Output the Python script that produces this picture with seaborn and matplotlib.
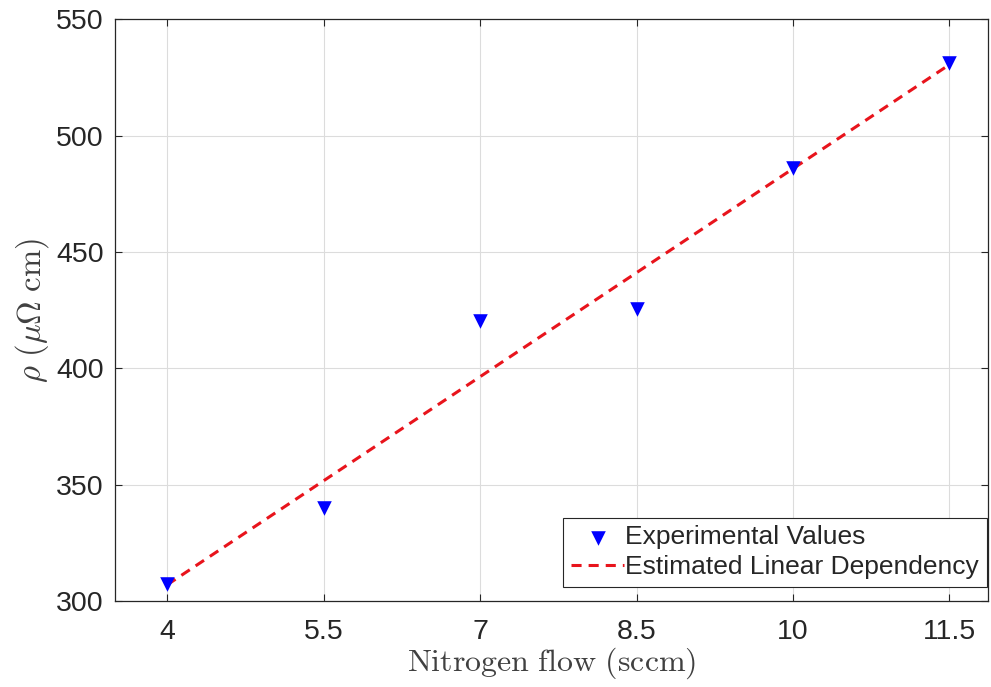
import matplotlib
matplotlib.use("Agg")
import matplotlib.pyplot as plt
import seaborn as sns
import pandas as pd

# Data
nitrogen_flow = [4, 5.5, 7, 8.5, 10, 11.5]
resistivity = [307.5, 340, 420.5, 425.5, 486, 531]
fit_x = [4, 11.5]
fit_y = [307, 530.5]
x_ticks = [4, 5.5, 7, 8.5, 10, 11.5]
x_tick_labels = ["4", "5.5", "7", "8.5", "10", "11.5"]
y_ticks = [300, 350, 400, 450, 500, 550]

sns.set_theme(style="whitegrid")
plt.rcParams['font.family'] = ['Liberation Sans', 'DejaVu Sans']
plt.rcParams['mathtext.fontset'] = 'cm'

df = pd.DataFrame({"x": nitrogen_flow, "y": resistivity})
fit = pd.DataFrame({"x": fit_x, "y": fit_y})

fig = plt.figure(figsize=(9.91, 6.87), dpi=100)
ax = fig.add_axes([0.116, 0.125, 0.881, 0.847])

sns.scatterplot(data=df, x="x", y="y", ax=ax, marker="v", s=110, color="#0000ff",
                edgecolor="#0000ff", linewidth=0, label="Experimental Values", zorder=3)
sns.lineplot(data=fit, x="x", y="y", ax=ax, color="#e8141c", linewidth=2.2,
             label="Estimated Linear Dependency", zorder=2)
ax.lines[-1].set_dashes([3.3, 2.3])

ax.set_xlim(3.5, 11.87)
ax.set_ylim(300, 550)
ax.set_xticks(x_ticks)
ax.set_xticklabels(x_tick_labels)
ax.set_yticks(y_ticks)

ax.grid(True, color="#dcdcdc", linewidth=0.8)
for s in ax.spines.values():
    s.set_visible(True)
    s.set_color("#262626")
    s.set_linewidth(0.9)

ax.tick_params(axis="both", which="both", direction="in", length=5, width=0.8,
               colors="#262626", labelsize=20.5, top=True, right=True,
               bottom=True, left=True, labeltop=False, labelright=False)
ax.tick_params(axis="x", pad=13)
ax.tick_params(axis="y", pad=8)

ax.set_xlabel(r"$\mathrm{Nitrogen\ flow\ (sccm)}$", fontsize=23, color="#404040", labelpad=0)
ax.set_ylabel(r"$\rho\ (\mu\Omega\ \mathrm{cm})$", fontsize=23.5, color="#404040", labelpad=4)

leg = ax.legend(loc="lower right", bbox_to_anchor=(0.999, 0.024), borderaxespad=0,
                fontsize=19, frameon=True, fancybox=False, framealpha=1,
                handlelength=2.0, handletextpad=0.05, borderpad=0.3, labelspacing=0.22)
leg.get_frame().set_edgecolor("#262626")
leg.get_frame().set_linewidth(0.8)

fig.savefig("out.png", dpi=100, facecolor="white")
